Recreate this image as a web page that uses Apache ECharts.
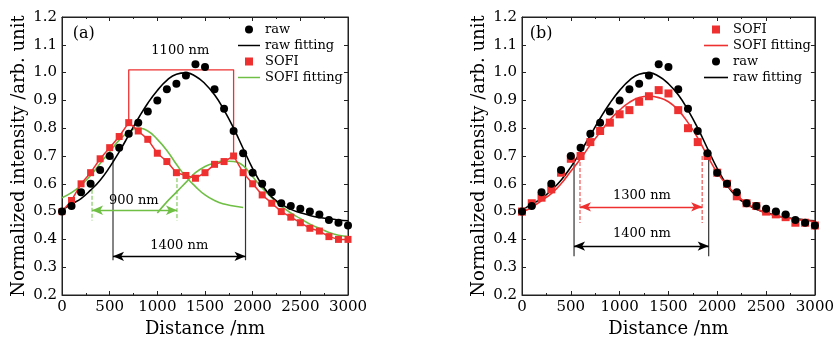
<!DOCTYPE html>
<html>
<head>
<meta charset="utf-8">
<script src="https://cdn.jsdelivr.net/npm/echarts@6/dist/echarts.min.js"></script>
</head>
<body style="margin:0;background:#fff">
<div id="main" style="width:837px;height:343px;"></div>
<script>
// positions along the profile (nm)
var dist = [0,100,200,300,400,500,600,700,800,900,1000,1100,1200,1300,1400,1500,
            1600,1700,1800,1900,2000,2100,2200,2300,2400,2500,2600,2700,2800,2900,3000];
var rawVals = [0.50,0.52,0.57,0.60,0.65,0.70,0.73,0.78,0.82,0.86,0.90,0.94,0.96,0.99,1.03,1.02,
               0.94,0.87,0.79,0.71,0.64,0.60,0.57,0.53,0.52,0.51,0.50,0.49,0.47,0.46,0.45];
var rawFit = [0.505,0.527,0.547,0.577,0.613,0.66,0.715,0.775,0.835,0.89,0.936,0.972,0.994,0.999,0.987,0.96,
              0.92,0.865,0.80,0.727,0.655,0.595,0.553,0.527,0.508,0.496,0.486,0.479,0.474,0.47,0.467];
// panel (a)
var sofiA = [0.50,0.54,0.60,0.64,0.69,0.73,0.77,0.82,0.79,0.76,0.71,0.68,0.64,0.63,0.62,0.64,
             0.67,0.68,0.70,0.64,0.60,0.56,0.53,0.50,0.48,0.46,0.44,0.43,0.41,0.40,0.40];
var fitA1x = [0,100,200,300,400,500,600,700,800,900,1000,1100,1200,1300,1400,1500,1600,1700,1800,1900];
var fitA1 = [0.55,0.568,0.595,0.63,0.673,0.715,0.757,0.787,0.80,0.79,0.76,0.72,0.67,0.625,0.59,0.56,0.54,0.527,0.52,0.515];
var fitA2x = [1000,1100,1200,1300,1400,1500,1600,1700,1800,1900,2000,2100,2200,2300,2400,2500,2600,2700,2800,2900,3000];
var fitA2 = [0.495,0.535,0.57,0.605,0.64,0.662,0.675,0.682,0.68,0.665,0.625,0.585,0.55,0.52,0.495,0.475,0.455,0.44,0.425,0.415,0.41];
// panel (b)
var sofiB = [0.50,0.53,0.55,0.58,0.64,0.69,0.70,0.75,0.79,0.82,0.85,0.865,0.895,0.915,0.937,0.925,
             0.865,0.80,0.75,0.70,0.64,0.60,0.555,0.53,0.52,0.50,0.49,0.48,0.46,0.46,0.45];
var sofiFitB = [0.50,0.515,0.54,0.565,0.60,0.645,0.69,0.74,0.785,0.83,0.865,0.893,0.91,0.915,0.91,0.895,
                0.865,0.82,0.765,0.70,0.64,0.595,0.56,0.53,0.51,0.495,0.485,0.478,0.472,0.468,0.465];

var RED = '#ee3030', GREEN = '#6fbf45', BLK = '#000';
var FONT = 'DejaVu Serif';

function pairs(xs, ys) { return xs.map(function (x, i) { return [x, ys[i]]; }); }

var myChart = echarts.init(document.getElementById('main'));

function xAx(grid, top) {
    return {
        type: 'value', gridIndex: grid, position: top ? 'top' : 'bottom',
        min: 0, max: 3000, interval: 500,
        name: top ? '' : 'Distance /nm', nameLocation: 'middle', nameGap: 24,
        nameTextStyle: { fontFamily: FONT, fontSize: 18, color: BLK },
        axisLine: { show: true, onZero: false, lineStyle: { color: '#222', width: 1 } },
        axisTick: { show: true, inside: true, length: 4, lineStyle: { color: '#222' } },
        minorTick: { show: true, splitNumber: 2, length: 2, lineStyle: { color: '#222' } },
        axisLabel: { show: !top, margin: 5, fontFamily: FONT, fontSize: 15, color: BLK,
                     formatter: function (v) { return String(v); } },
        splitLine: { show: false }
    };
}
function yAx(grid, right) {
    return {
        type: 'value', gridIndex: grid, position: right ? 'right' : 'left',
        min: 0.2, max: 1.2, interval: 0.1,
        name: right ? '' : 'Normalized intensity /arb. unit', nameLocation: 'middle', nameGap: 34,
        nameTextStyle: { fontFamily: FONT, fontSize: 18, color: BLK },
        axisLine: { show: true, onZero: false, lineStyle: { color: '#222', width: 1 } },
        axisTick: { show: true, inside: true, length: 4, lineStyle: { color: '#222' } },
        axisLabel: { show: !right, margin: 5, fontFamily: FONT, fontSize: 15, color: BLK,
                     formatter: function (v) { return v.toFixed(1); } },
        splitLine: { show: false }
    };
}

function seg(xi, yi, pts, color, width, type) {
    return { type: 'line', xAxisIndex: xi, yAxisIndex: yi, data: pts, symbol: 'none', silent: true,
             lineStyle: { color: color, width: width, type: type || 'solid' }, z: 1 };
}
function arrow(xi, yi, x1, x2, y, color) {
    return { type: 'line', xAxisIndex: xi, yAxisIndex: yi, data: [], silent: true,
             markLine: { silent: true, symbol: ['arrow', 'arrow'], symbolSize: [7, 11],
                         label: { show: false },
                         lineStyle: { color: color, width: 1.3, type: 'solid' },
                         data: [[{ coord: [x1, y] }, { coord: [x2, y] }]] } };
}
function texts(xi, yi, items, size) {
    return { type: 'scatter', xAxisIndex: xi, yAxisIndex: yi, symbolSize: 0, silent: true, z: 5,
             itemStyle: { opacity: 1 },
             data: items.map(function (t) { return { name: t[0], value: [t[1], t[2]] }; }),
             label: { show: true, position: 'inside', formatter: '{b}', color: BLK,
                      fontFamily: FONT, fontSize: size } };
}

var SQ = 'path://M0,0H10V10H0Z';
var LN = 'path://M0,0H24V1.6H0Z';

myChart.setOption({
    animation: false,
    grid: [
        { left: 62, top: 17, width: 286, height: 278, show: true, borderColor: '#222', borderWidth: 1 },
        { left: 522, top: 17, width: 294, height: 278, show: true, borderColor: '#222', borderWidth: 1 }
    ],
    xAxis: [xAx(0, false), xAx(0, true), xAx(1, false), xAx(1, true)],
    yAxis: [yAx(0, false), yAx(0, true), yAx(1, false), yAx(1, true)],
    legend: [
        { orient: 'vertical', left: 238, top: 23, padding: 0, itemGap: 3, itemWidth: 22, itemHeight: 8,
          textStyle: { fontFamily: FONT, fontSize: 13, color: BLK },
          data: [{ name: 'raw' }, { name: 'raw fitting', icon: LN }, { name: 'SOFI', icon: SQ },
                 { name: 'SOFI fitting', icon: LN }] },
        { orient: 'vertical', left: 704, top: 23, padding: 0, itemGap: 3, itemWidth: 24, itemHeight: 8,
          textStyle: { fontFamily: FONT, fontSize: 13, color: BLK },
          formatter: function (n) { return n.replace(' (b)', ''); },
          data: [{ name: 'SOFI (b)', icon: SQ }, { name: 'SOFI fitting (b)', icon: LN },
                 { name: 'raw (b)' }, { name: 'raw fitting (b)', icon: LN }] }
    ],
    series: [
        // ---- panel (a)
        seg(0, 0, [[700, 0.82], [700, 1.01], [1800, 1.01], [1800, 0.70]], RED, 1.3),
        seg(0, 0, [[315, 0.60], [315, 0.468]], GREEN, 1, 'dashed'),
        seg(0, 0, [[1206, 0.642], [1206, 0.468]], GREEN, 1, 'dashed'),
        seg(0, 0, [[535, 0.70], [535, 0.325]], '#333', 1.2),
        seg(0, 0, [[1925, 0.71], [1925, 0.325]], '#333', 1.2),
        arrow(0, 0, 315, 1206, 0.505, GREEN),
        arrow(0, 0, 535, 1925, 0.339, BLK),
        { name: 'SOFI fitting', type: 'line', xAxisIndex: 0, yAxisIndex: 0, data: pairs(fitA1x, fitA1),
          smooth: true, symbol: 'none', lineStyle: { color: GREEN, width: 1.6 }, itemStyle: { color: GREEN }, z: 2 },
        { name: 'SOFI fitting', type: 'line', xAxisIndex: 0, yAxisIndex: 0, data: pairs(fitA2x, fitA2),
          smooth: true, symbol: 'none', lineStyle: { color: GREEN, width: 1.6 }, itemStyle: { color: GREEN }, z: 2 },
        { name: 'raw fitting', type: 'line', xAxisIndex: 0, yAxisIndex: 0, data: pairs(dist, rawFit),
          smooth: true, symbol: 'none', lineStyle: { color: BLK, width: 1.6 }, itemStyle: { color: BLK }, z: 2 },
        { name: 'SOFI', type: 'line', xAxisIndex: 0, yAxisIndex: 0, data: pairs(dist, sofiA),
          symbol: 'rect', symbolSize: 7, lineStyle: { color: RED, width: 1.5 }, itemStyle: { color: RED }, z: 3 },
        { name: 'raw', type: 'scatter', xAxisIndex: 0, yAxisIndex: 0, data: pairs(dist, rawVals),
          symbol: 'circle', symbolSize: 8, itemStyle: { color: BLK, opacity: 1 }, z: 4 },
        texts(0, 0, [['1100 nm', 1241, 1.078], ['900 nm', 753, 0.538], ['1400 nm', 1230, 0.379]], 13),
        texts(0, 0, [['(a)', 229, 1.14]], 16),

        // ---- panel (b)
        seg(2, 2, [[594, 0.70], [594, 0.459]], RED, 1, 'dashed'),
        seg(2, 2, [[1845, 0.70], [1845, 0.459]], RED, 1, 'dashed'),
        seg(2, 2, [[533, 0.70], [533, 0.339]], '#333', 1.2),
        seg(2, 2, [[1912, 0.714], [1912, 0.339]], '#333', 1.2),
        arrow(2, 2, 594, 1845, 0.517, RED),
        arrow(2, 2, 533, 1912, 0.376, BLK),
        { name: 'raw fitting (b)', type: 'line', xAxisIndex: 2, yAxisIndex: 2, data: pairs(dist, rawFit),
          smooth: true, symbol: 'none', lineStyle: { color: BLK, width: 1.6 }, itemStyle: { color: BLK }, z: 2 },
        { name: 'SOFI fitting (b)', type: 'line', xAxisIndex: 2, yAxisIndex: 2, data: pairs(dist, sofiFitB),
          smooth: true, symbol: 'none', lineStyle: { color: RED, width: 1.6 }, itemStyle: { color: RED }, z: 2 },
        { name: 'SOFI (b)', type: 'scatter', xAxisIndex: 2, yAxisIndex: 2, data: pairs(dist, sofiB),
          symbol: 'rect', symbolSize: 8, itemStyle: { color: RED, opacity: 1 }, z: 3 },
        { name: 'raw (b)', type: 'scatter', xAxisIndex: 2, yAxisIndex: 2, data: pairs(dist, rawVals),
          symbol: 'circle', symbolSize: 8, itemStyle: { color: BLK, opacity: 1 }, z: 4 },
        texts(2, 2, [['1300 nm', 1228, 0.556], ['1400 nm', 1228, 0.42]], 13),
        texts(2, 2, [['(b)', 197, 1.14]], 16)
    ]
});
</script>
</body>
</html>
